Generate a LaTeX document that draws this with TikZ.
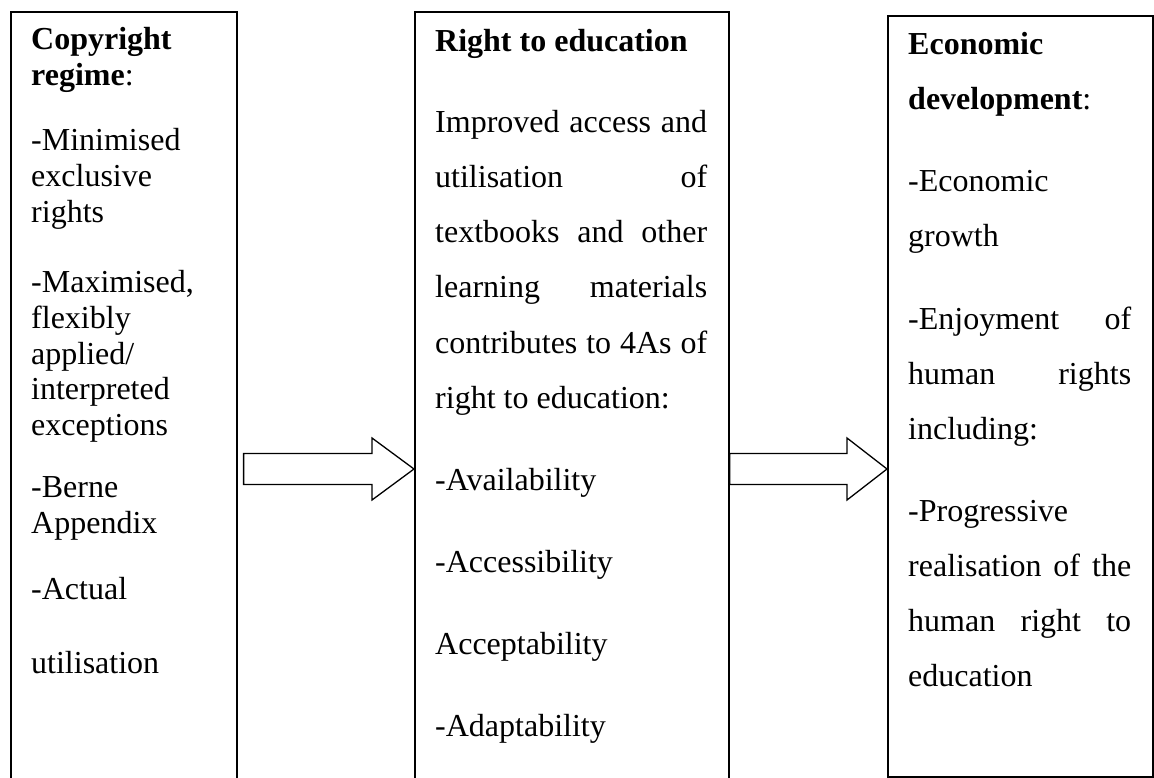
\documentclass[tikz,border=0pt]{standalone}
\usepackage{fontspec}
\setmainfont{Liberation Serif}
\usetikzlibrary{calc}
\tikzset{
  box/.style={draw=black, line width=1.6pt, rectangle, inner sep=0pt, anchor=north west},
  txt/.style={font=\fontsize{32}{38}\selectfont, anchor=base west, inner sep=0pt, text=black},
  blk/.style={draw=black, line width=1.3pt, fill=white, line join=miter}
}
\newcommand\tline[4]{\node[txt] (#1) at (#2,#3) {#4};}
\newcommand\blockarrow[3]{%
  \draw[blk] let \p1=(#1), \p2=(#2) in
    (\x1,\y1+15.5pt) -- (\x2-#3,\y1+15.5pt) -- (\x2-#3,\y1+31pt) -- (\x2,\y2)
    -- (\x2-#3,\y1-31pt) -- (\x2-#3,\y1-15.5pt) -- (\x1,\y1-15.5pt) -- cycle;}
\begin{document}
\begin{tikzpicture}[x=1pt,y=-1pt]
\clip (0,0) rectangle (1154,778);
\fill[white] (0,0) rectangle (1154,778);
% boxes
\node[box, minimum width=226pt, minimum height=820pt] (L) at (10,11) {};
\node[box, minimum width=314pt, minimum height=820pt] (M) at (414,11) {};
\node[box, minimum width=265pt, minimum height=761pt] (R) at (887,15) {};
\coordinate (mid) at (0,469);
\path (L.east |- mid) ++(6,0) coordinate (a1s);
\coordinate (a1e) at (M.west |- mid);
\coordinate (a2s) at (M.east |- mid);
\coordinate (a2e) at (R.west |- mid);
\blockarrow{a1s}{a1e}{42pt}
\blockarrow{a2s}{a2e}{40pt}
% left box text
\tline{l1}{31}{50}{\textbf{Copyright}}
\tline{l2}{31}{86}{\textbf{regime}:}
\tline{l3}{31}{151}{-Minimised}
\tline{l4}{31}{187}{exclusive}
\tline{l5}{31}{223}{rights}
\tline{l6}{31}{292}{-Maximised,}
\tline{l7}{31}{328}{flexibly}
\tline{l8}{31}{364}{applied/}
\tline{l9}{31}{399}{interpreted}
\tline{l10}{31}{435}{exceptions}
\tline{l11}{31}{497}{-Berne}
\tline{l12}{31}{533}{Appendix}
\tline{l13}{31}{599}{-Actual}
\tline{l14}{31}{673}{utilisation}
% middle box text
\tline{m1}{435}{52}{\textbf{Right to education}}
\tline{m2}{435}{133}{\makebox[272pt][s]{Improved access and}}
\tline{m3}{435}{188}{\makebox[272pt][s]{utilisation of}}
\tline{m4}{435}{243}{\makebox[272pt][s]{textbooks and other}}
\tline{m5}{435}{298}{\makebox[272pt][s]{learning materials}}
\tline{m6}{435}{353}{\makebox[272pt][s]{contributes to 4As of}}
\tline{m7}{435}{408}{right to education:}
\tline{m8}{435}{490}{-Availability}
\tline{m9}{435}{572}{-Accessibility}
\tline{m10}{435}{654}{Acceptability}
\tline{m11}{435}{736}{-Adaptability}
% right box text
\tline{r1}{908}{55}{\textbf{Economic}}
\tline{r2}{908}{110}{\textbf{development}:}
\tline{r3}{908}{192}{-Economic}
\tline{r4}{908}{247}{growth}
\tline{r5}{908}{329}{\makebox[223pt][s]{-Enjoyment of}}
\tline{r6}{908}{384}{\makebox[223pt][s]{human rights}}
\tline{r7}{908}{439}{including:}
\tline{r8}{908}{521}{-Progressive}
\tline{r9}{908}{576}{\makebox[223pt][s]{realisation of the}}
\tline{r10}{908}{631}{\makebox[223pt][s]{human right to}}
\tline{r11}{908}{686}{education}
\end{tikzpicture}
\end{document}
